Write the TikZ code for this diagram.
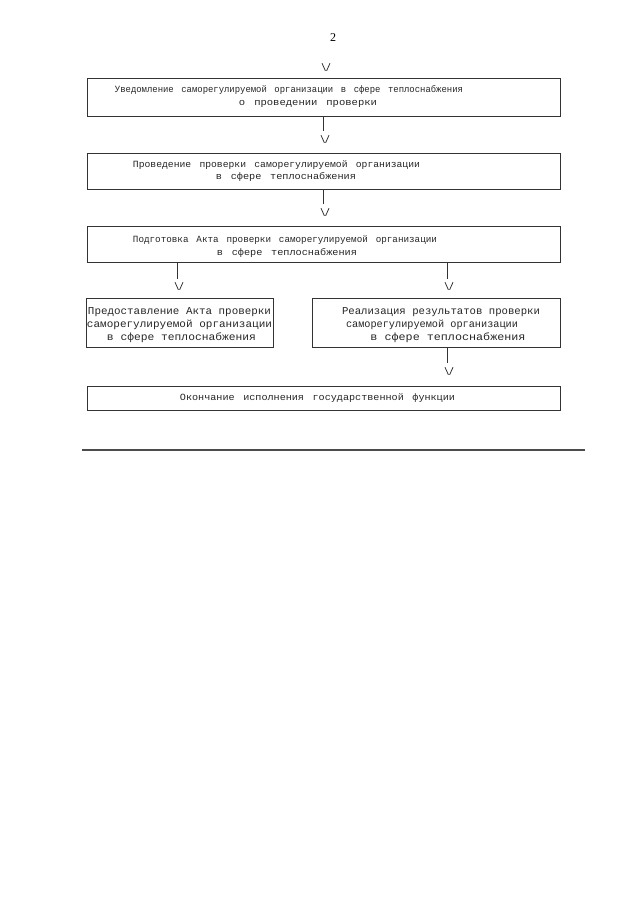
\documentclass[tikz,border=0pt]{standalone}
\usepackage{fontspec}
\usepackage{graphicx}
\setmainfont{Liberation Serif}
\newfontfamily\typefont{Liberation Mono}
\newcommand{\fitw}[2]{\resizebox{#1pt}{\height}{#2}}
\newcommand{\gp}{\hspace{0.85em}}
\begin{document}
\begin{tikzpicture}[x=1pt,y=-1pt,
  box/.style={draw=black!80, line width=0.8pt, inner sep=0pt},
  txt/.style={inner sep=0pt, anchor=mid, text=black!85, font=\typefont\fontsize{9.5}{11}\selectfont},
  txtb/.style={txt, font=\typefont\fontsize{10.5}{12}\selectfont},
  conn/.style={draw=black!80, line width=0.8pt},
  vmark/.pic={\draw[black!80, line width=0.8pt] (-4,-3.8) -- (-0.6,3.8) (0.6,3.8) -- (4,-3.8);}
]
\useasboundingbox (0,0) rectangle (640,905);
\node[inner sep=0pt, font=\fontsize{12}{14}\selectfont] (pg) at (333,38) {2};
% boxes
\node[box, minimum width=473pt, minimum height=38pt] (b1) at (323.5,97) {};
\node[box, minimum width=473pt, minimum height=36pt] (b2) at (323.5,171) {};
\node[box, minimum width=473pt, minimum height=36pt] (b3) at (323.5,244) {};
\node[box, minimum width=187pt, minimum height=49pt] (b4) at (179.5,322.5) {};
\node[box, minimum width=248pt, minimum height=49pt] (b5) at (436,322.5) {};
\node[box, minimum width=473pt, minimum height=24pt] (b6) at (323.5,398.5) {};
% texts
\node[txt] (t11) at (289,90) {\fitw{348}{Уведомление\gp саморегулируемой\gp организации\gp в\gp сфере\gp теплоснабжения}};
\node[txt] (t12) at (308,103) {\fitw{138}{о\gp проведении\gp проверки}};
\node[txt] (t21) at (276.5,165) {\fitw{287}{Проведение\gp проверки\gp саморегулируемой\gp организации}};
\node[txt] (t22) at (286,177) {\fitw{140}{в\gp сфере\gp теплоснабжения}};
\node[txt] (t31) at (285,240) {\fitw{304}{Подготовка\gp Акта\gp проверки\gp саморегулируемой\gp организации}};
\node[txt] (t32) at (287,253) {\fitw{140}{в\gp сфере\gp теплоснабжения}};
\node[txtb] (t41) at (179.5,312) {\fitw{183}{Предоставление Акта проверки}};
\node[txtb] (t42) at (179.5,325) {\fitw{185}{саморегулируемой организации}};
\node[txtb] (t43) at (181.5,338) {\fitw{149}{в сфере теплоснабжения}};
\node[txtb] (t51) at (441,312) {\fitw{198}{Реализация результатов проверки}};
\node[txtb] (t52) at (432,325) {\fitw{172}{саморегулируемой организации}};
\node[txtb] (t53) at (448,338) {\fitw{155}{в сфере теплоснабжения}};
\node[txt] (t61) at (317.5,398) {\fitw{275}{Окончание\gp исполнения\gp государственной\gp функции}};
% connector ends
\coordinate (c1) at (323,131);
\coordinate (c2) at (323,204);
\coordinate (c3) at (177,279);
\coordinate (c4) at (447,279);
\coordinate (c5) at (447,363);
\draw[conn] (b1.south -| c1) -- (c1);
\draw[conn] (b2.south -| c2) -- (c2);
\draw[conn] (b3.south -| c3) -- (c3);
\draw[conn] (b3.south -| c4) -- (c4);
\draw[conn] (b5.south -| c5) -- (c5);
% V marks
\pic at (326,67) {vmark};
\pic at (325,139) {vmark};
\pic at (325,212) {vmark};
\pic at (179,286) {vmark};
\pic at (449,286) {vmark};
\pic at (449,371) {vmark};
% rule
\coordinate (r1) at (82,450);
\coordinate (r2) at (585,450);
\draw[black!70, line width=1.3pt] (r1) -- (r2);
\end{tikzpicture}
\end{document}
